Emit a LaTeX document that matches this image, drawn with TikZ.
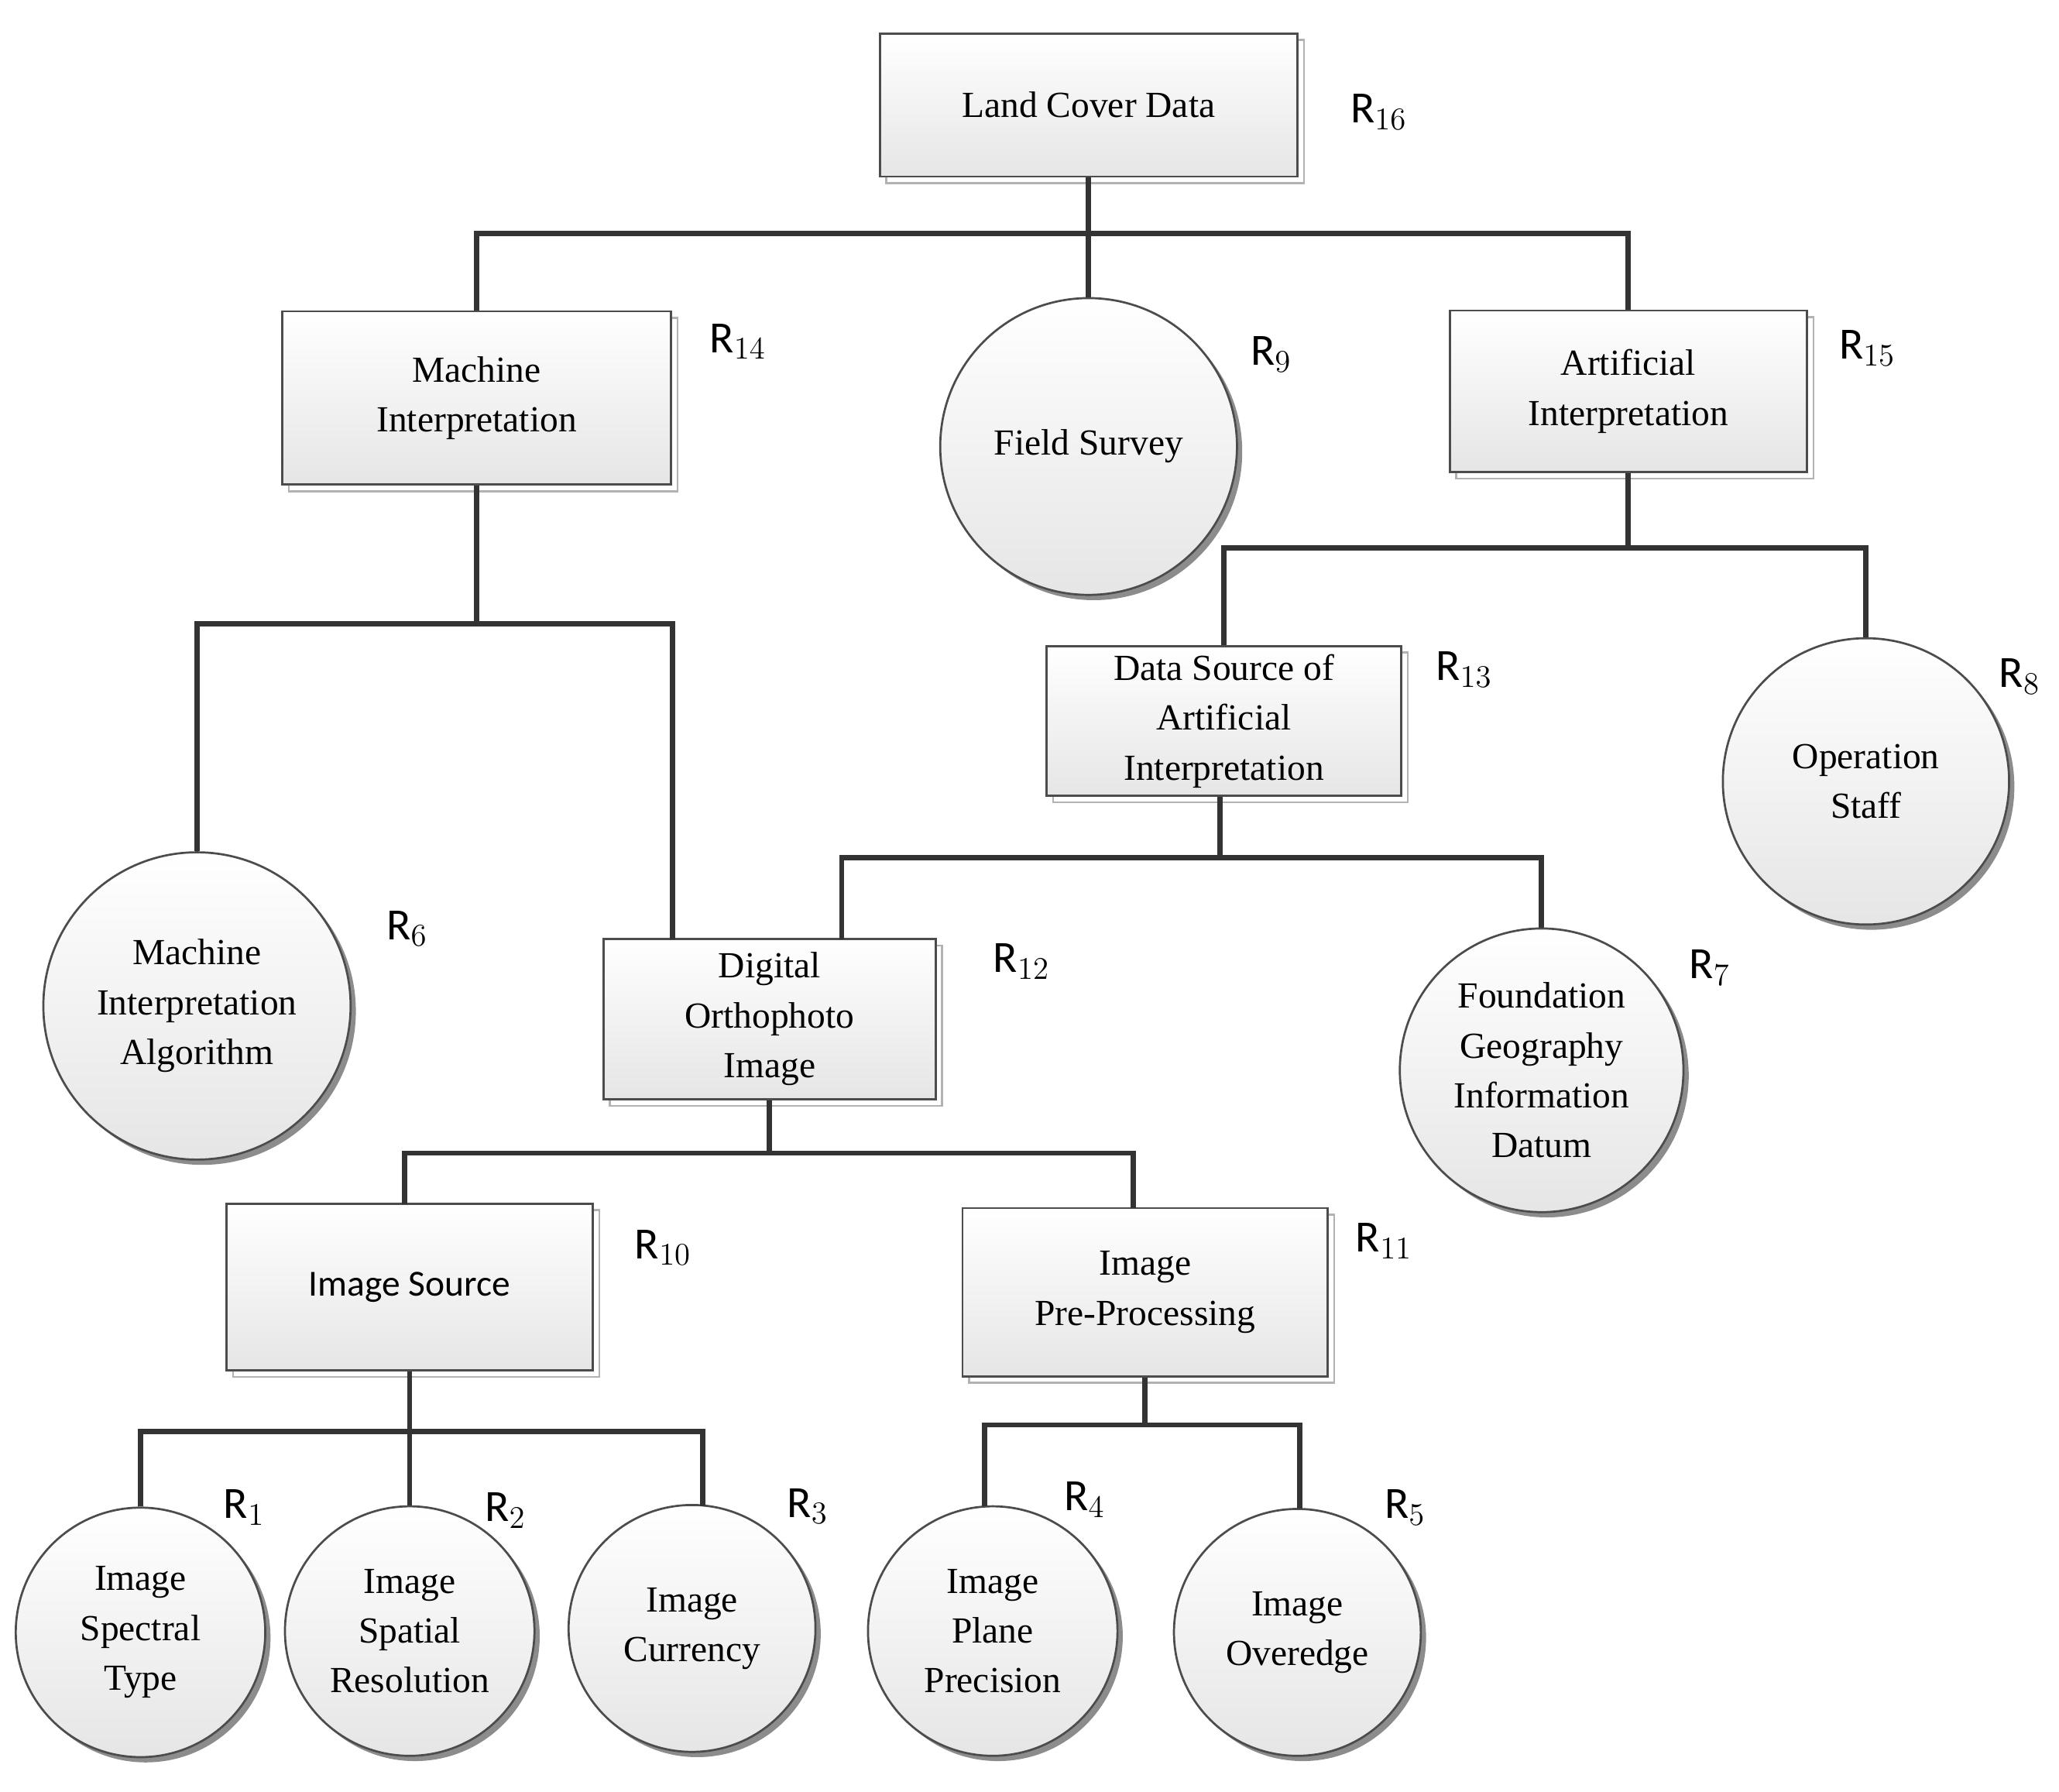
\documentclass[tikz,border=0pt]{standalone}
\usepackage{fontspec}
\setmainfont{Liberation Serif}
\newfontfamily\rsans{Carlito}
\usetikzlibrary{shadows}
\begin{document}
\begin{tikzpicture}[x=0.5pt,y=-0.5pt,
  box/.style 2 args={draw=black!70,line width=0.8pt,top color=white,bottom color=black!10,
    minimum width=#1*0.5pt,minimum height=#2*0.5pt,align=center,font=\fontsize{14}{19}\selectfont,inner sep=2pt,
    drop shadow={shadow xshift=2.5pt,shadow yshift=-2.5pt,fill=white,draw=black!30,opacity=1}},
  circ/.style={circle,draw=black!70,line width=0.8pt,top color=white,bottom color=black!10,
    minimum size=#1pt,align=center,font=\fontsize{14}{19}\selectfont,inner sep=0pt,
    drop shadow={shadow xshift=2pt,shadow yshift=-2pt,fill=black!45,opacity=1}},
  rl/.style={font=\rsans\fontsize{17}{17}\selectfont},
  ln/.style={draw=black!80,line width=2pt}]
\useasboundingbox (0,0) rectangle (1568,1364);
% nodes
\node[box={318}{109}] (lcd) at (829,80) {Land Cover Data};
\node[box={296}{132}] (mi) at (363,303) {Machine\\Interpretation};
\node[circ=113] (fs) at (829,340) {Field Survey};
\node[box={272}{123}] (ai) at (1240,298) {Artificial\\Interpretation};
\node[box={270}{114}] (ds) at (932,549) {Data Source of\\Artificial\\Interpretation};
\node[circ=109] (os) at (1421,595) {Operation\\Staff};
\node[circ=117] (mia) at (150,766) {Machine\\Interpretation\\Algorithm};
\node[box={253}{122}] (doi) at (586,776) {Digital\\Orthophoto\\Image};
\node[circ=108] (fg) at (1174,815) {Foundation\\Geography\\Information\\Datum};
\node[box={279}{127}] (is) at (312,980) {\rsans Image Source};
\node[box={278}{128}] (pp) at (872,984) {Image\\Pre-Processing};
\node[circ=95] (c1) at (107,1243) {Image\\Spectral\\Type};
\node[circ=95] (c2) at (312,1242) {Image\\Spatial\\Resolution};
\node[circ=94] (c3) at (527,1240) {Image\\Currency};
\node[circ=95] (c4) at (756,1242) {Image\\Plane\\Precision};
\node[circ=94] (c5) at (988,1243) {Image\\Overedge};
% labels
\node[rl] (r16) at (1050,85) {R$_{16}$};
\node[rl] (r14) at (562,260) {R$_{14}$};
\node[rl] (r9) at (968,270) {R$_{9}$};
\node[rl] (r15) at (1422,265) {R$_{15}$};
\node[rl] (r13) at (1115,510) {R$_{13}$};
\node[rl] (r8) at (1538,515) {R$_{8}$};
\node[rl] (r6) at (310,707) {R$_{6}$};
\node[rl] (r12) at (778,732) {R$_{12}$};
\node[rl] (r7) at (1302,737) {R$_{7}$};
\node[rl] (r10) at (505,950) {R$_{10}$};
\node[rl] (r11) at (1054,945) {R$_{11}$};
\node[rl] (r1) at (186,1148) {R$_{1}$};
\node[rl] (r2) at (385,1150) {R$_{2}$};
\node[rl] (r3) at (615,1147) {R$_{3}$};
\node[rl] (r4) at (826,1142) {R$_{4}$};
\node[rl] (r5) at (1070,1148) {R$_{5}$};
% junctions
\coordinate (j1) at (829,178);
\coordinate (j2) at (1240,417);
\coordinate (j3) at (363,475);
\coordinate (j4) at (929,653);
\coordinate (j5) at (586,878);
\coordinate (j6) at (312,1090);
\coordinate (j7) at (872,1085);
% connectors
\draw[ln] (lcd.south) -- (fs.north);
\draw[ln] (mi.north) |- (j1) -| (ai.north);
\draw[ln] (ai.south) -- (j2);
\draw[ln] (ds.north) |- (j2) -| (os.north);
\draw[ln] (mi.south) -- (j3);
\draw[ln] (mia.north) |- (j3) -| (512,715);
\draw[ln] (ds.south -| j4) -- (j4);
\draw[ln] (641,715) |- (j4) -| (fg.north);
\draw[ln] (doi.south) -- (j5);
\draw[ln] (308,917) |- (j5) -| (863,920);
\draw[ln] (is.south) -- (j6);
\draw[ln] (c1.north) |- (j6) -| (535,1147);
\draw[ln] (j6) -- (c2.north);
\draw[ln] (pp.south) -- (j7);
\draw[ln] (750,1147) |- (j7) -| (990,1149);
\end{tikzpicture}
\end{document}
